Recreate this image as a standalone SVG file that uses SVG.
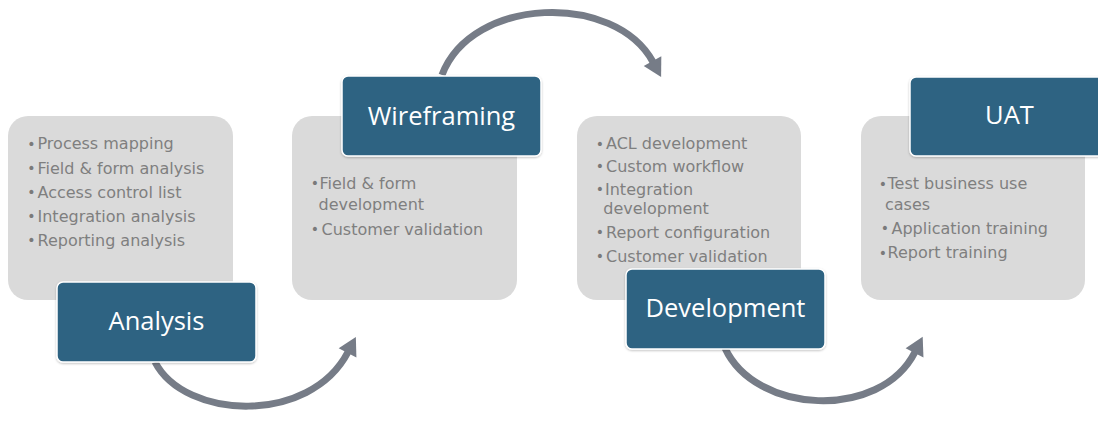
<svg xmlns="http://www.w3.org/2000/svg" width="1098" height="424" viewBox="0 0 1098 424">
  <style>
    .panel { fill: #dadada; }
    .head { fill: #2e6382; stroke: #ffffff; stroke-width: 1.5; filter: url(#soft); }
    .headtxt { font-family: "Open Sans", "Liberation Sans", sans-serif; font-size: 25.5px; fill: #ffffff; text-anchor: middle; }
    .item { font-family: "DejaVu Sans", "Liberation Sans", sans-serif; font-size: 16px; fill: #7f7f7f; }
    .dot { font-family: "DejaVu Sans", sans-serif; font-size: 14px; fill: #7a7a7a; text-anchor: middle; }
    .flow { fill: none; stroke: #767c87; stroke-width: 7; marker-end: url(#head); }
  </style>
  <defs>
    <marker id="head" markerUnits="userSpaceOnUse" markerWidth="24" markerHeight="24" viewBox="0 -12 20 24" refX="1" refY="0" orient="auto">
      <path d="M0,-10 L18,0 L0,10 Z" fill="#767c87"/>
    </marker>
    <filter id="soft" x="-10%" y="-10%" width="120%" height="130%">
      <feDropShadow dx="0" dy="1" stdDeviation="1" flood-color="#000000" flood-opacity="0.25"/>
    </filter>
  </defs>

  <rect width="1098" height="424" fill="#ffffff"/>

  <!-- curved arrows linking the phases -->
  <g id="connectors">
    <path class="flow" d="M155,362 C185,420 310,425 348,352"/>
    <path class="flow" d="M442,75 C472,-4 615,-8 653,62"/>
    <path class="flow" d="M725,348 C755,414 880,421 915,352"/>
  </g>

  <!-- phase 1 -->
  <g id="analysis">
    <rect class="panel" x="8" y="116" width="225" height="184" rx="20"/>
    <text class="dot" x="31.5" y="148.5">•</text>
    <text class="item" x="37.5" y="149.3">Process mapping</text>
    <text class="dot" x="31.5" y="172.5">•</text>
    <text class="item" x="37.5" y="173.5">Field &amp; form analysis</text>
    <text class="dot" x="31.5" y="196.8">•</text>
    <text class="item" x="37.5" y="197.7">Access control list</text>
    <text class="dot" x="31.5" y="220.8">•</text>
    <text class="item" x="37.5" y="221.7">Integration analysis</text>
    <text class="dot" x="31.5" y="244.5">•</text>
    <text class="item" x="37.5" y="245.5">Reporting analysis</text>
    <rect class="head" x="57" y="282" width="199" height="80" rx="6"/>
    <text class="headtxt" x="156.5" y="330">Analysis</text>
  </g>

  <!-- phase 2 -->
  <g id="wireframing">
    <rect class="panel" x="292" y="116" width="225" height="184" rx="20"/>
    <text class="dot" x="315" y="187.5">•</text>
    <text class="item" x="319.5" y="188.5">Field &amp; form</text>
    <text class="item" x="318.5" y="210">development</text>
    <text class="dot" x="315" y="234">•</text>
    <text class="item" x="321.5" y="235">Customer validation</text>
    <rect class="head" x="342" y="76" width="199" height="80" rx="6"/>
    <text class="headtxt" x="441.5" y="124.5">Wireframing</text>
  </g>

  <!-- phase 3 -->
  <g id="development">
    <rect class="panel" x="577" y="116" width="224" height="184" rx="20"/>
    <text class="dot" x="600" y="148.5">•</text>
    <text class="item" x="606" y="149.3">ACL development</text>
    <text class="dot" x="600" y="170.8">•</text>
    <text class="item" x="606" y="171.7">Custom workflow</text>
    <text class="dot" x="600" y="194.1">•</text>
    <text class="item" x="605" y="195">Integration</text>
    <text class="item" x="603.3" y="213.5">development</text>
    <text class="dot" x="600" y="237.4">•</text>
    <text class="item" x="606" y="238.3">Report configuration</text>
    <text class="dot" x="600" y="260.8">•</text>
    <text class="item" x="606" y="261.7">Customer validation</text>
    <rect class="head" x="626" y="269" width="199" height="80" rx="6"/>
    <text class="headtxt" x="725.5" y="317">Development</text>
  </g>

  <!-- phase 4 -->
  <g id="uat">
    <rect class="panel" x="861" y="116" width="224" height="184" rx="20"/>
    <text class="dot" x="883" y="188.5">•</text>
    <text class="item" x="887.5" y="189.3">Test business use</text>
    <text class="item" x="885" y="210">cases</text>
    <text class="dot" x="885" y="233.1">•</text>
    <text class="item" x="891.5" y="234">Application training</text>
    <text class="dot" x="883" y="257.5">•</text>
    <text class="item" x="887.5" y="258.3">Report training</text>
    <rect class="head" x="910" y="77" width="199" height="79" rx="6"/>
    <text class="headtxt" x="1009.5" y="124">UAT</text>
  </g>
</svg>
